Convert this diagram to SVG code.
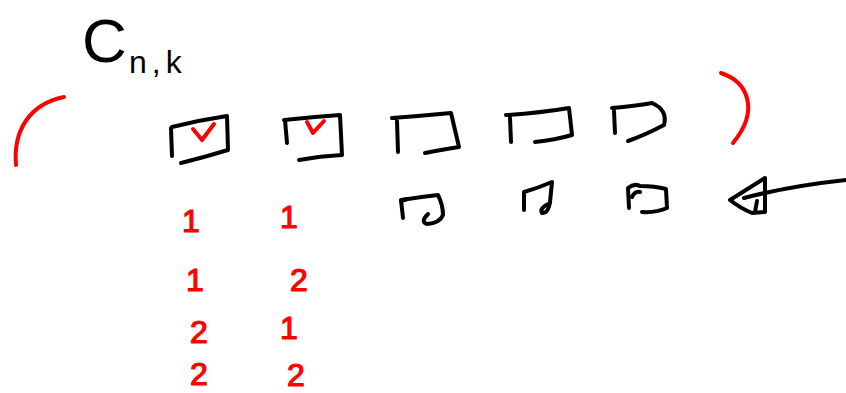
<svg xmlns="http://www.w3.org/2000/svg" width="846" height="393" viewBox="0 0 846 393">
<style>
.k{fill:none;stroke:#000;stroke-width:4;stroke-linecap:round;stroke-linejoin:round}
.r{fill:none;stroke:#f00;stroke-width:4;stroke-linecap:round;stroke-linejoin:round}
.t{font-family:"Liberation Sans","DejaVu Sans",sans-serif;fill:#000}
.num{font-family:"Liberation Sans","DejaVu Sans",sans-serif;font-size:32px;fill:#f00;stroke:#f00;stroke-width:1.2}
</style>
<rect width="846" height="393" fill="#fff"/>
<g id="title">
<text class="t" x="82" y="62" font-size="62">C</text>
<text class="t" x="129" y="73" font-size="32" letter-spacing="5">n,k</text>
</g>
<g id="brackets">
<path class="r" d="M16,165 C13,130 30,104 64,97"/>
<path class="r" d="M721,73 C748,82 760,110 733,143"/>
</g>
<g id="box1">
<path class="k" d="M171,128 L172,156 M172,127 Q200,120 227,116 L228,150 Q205,157 181,163"/>
<path class="r" d="M193,129 L202,140 L214,124"/>
</g>
<g id="box2">
<path class="k" d="M285,120 L287,143 M284,120 Q312,117 340,115 L342,155 Q320,156 299,160"/>
<path class="r" d="M307,122 L313,133 L324,121"/>
</g>
<g id="box3">
<path class="k" d="M397,121 L398,152 M392,118 Q420,116 451,113 L459,147 Q440,150 425,153"/>
</g>
<g id="box4">
<path class="k" d="M510,118 L511,142 M506,115 Q540,113 569,108 L572,135 Q555,140 535,142"/>
</g>
<g id="box5">
<path class="k" d="M614,111 L615,133 M612,108 Q635,106 652,103 Q668,110 664,125 Q645,135 628,141"/>
</g>
<g id="box6">
<path class="k" d="M403,218 L401,200 Q420,197 438,195 Q443,205 443,215 Q440,223 427,224 Q420,222 428,214"/>
<path class="k" d="M401,201 L407,199"/>
</g>
<g id="box7">
<path class="k" d="M524,210 L524,192 Q538,188 552,182 L550,202 Q548,214 542,213 Q539,208 550,203"/>
</g>
<g id="box8">
<path class="k" d="M629,208 L628,188 Q634,183 640,186 Q655,186 666,189 L667,208 Q655,213 642,212 M632,197 Q635,191 640,192"/>
</g>
<g id="connectors">
<path class="k" d="M846,180 Q790,186 744,198"/>
<path class="k" d="M765,178 L730,200 Q740,208 752,213 L765,212 Z M757,201 L755,212"/>
</g>
<g id="counts">
<text class="num" x="182" y="232">1</text>
<text class="num" x="280" y="228">1</text>
<text class="num" x="186" y="291">1</text>
<text class="num" x="290" y="291">2</text>
<text class="num" x="190" y="343">2</text>
<text class="num" x="280" y="339">1</text>
<text class="num" x="190" y="385">2</text>
<text class="num" x="287" y="386">2</text>
</g>
</svg>
